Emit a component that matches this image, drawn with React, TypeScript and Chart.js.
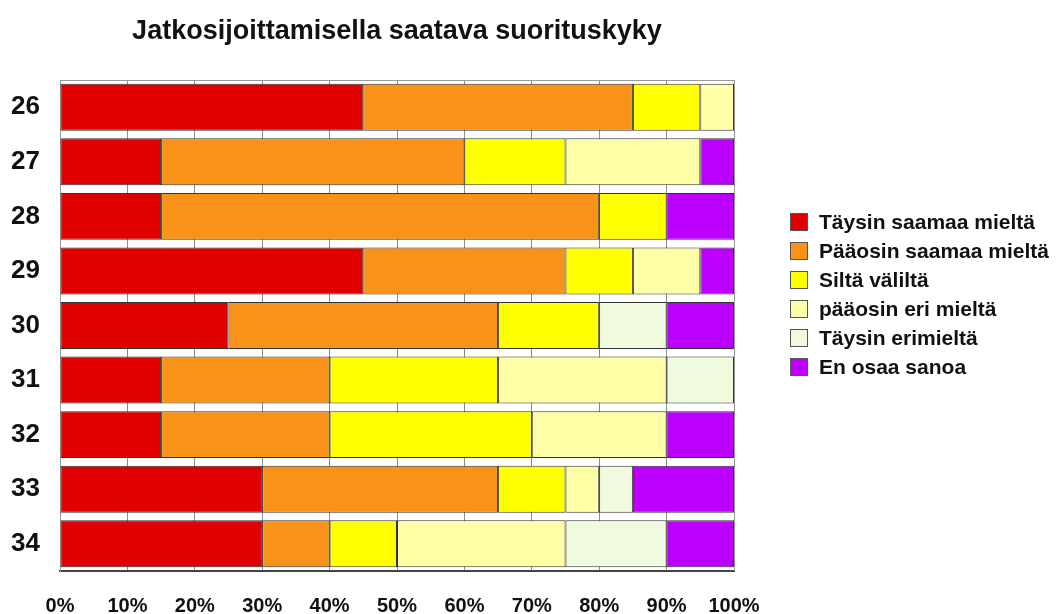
import React, { useEffect, useRef } from "react";
import { Chart, registerables } from "chart.js";

Chart.register(...registerables);

const categories = ["26", "27", "28", "29", "30", "31", "32", "33", "34"];
const seriesLabels = [
  "Täysin saamaa mieltä",
  "Pääosin saamaa mieltä",
  "Siltä väliltä",
  "pääosin eri mieltä",
  "Täysin erimieltä",
  "En osaa sanoa",
];
const taysinSamaa = [45, 15, 15, 45, 25, 15, 15, 30, 30];
const paaosinSamaa = [40, 45, 65, 30, 40, 25, 25, 35, 10];
const siltaValilta = [10, 15, 10, 10, 15, 25, 30, 10, 10];
const paaosinEri = [5, 20, 0, 10, 0, 25, 20, 5, 25];
const taysinEri = [0, 0, 0, 0, 10, 10, 0, 5, 15];
const enOsaa = [0, 5, 10, 5, 10, 0, 10, 15, 10];
const xTicks = [0, 10, 20, 30, 40, 50, 60, 70, 80, 90, 100];
const title = "Jatkosijoittamisella saatava suorituskyky";

const colors = ["#E00000", "#F99218", "#FFFF00", "#FFFFA8", "#F0FADC", "#BB00FF"];

const FONT = "'Liberation Sans', Arial, sans-serif";

export default function App() {
  const ref = useRef<HTMLCanvasElement | null>(null);

  useEffect(() => {
    document.body.style.margin = "0";
    const canvas = ref.current;
    if (!canvas) return;
    const values = [taysinSamaa, paaosinSamaa, siltaValilta, paaosinEri, taysinEri, enOsaa];

    const framePlugin = {
      id: "frameAndExtras",
      beforeDatasetsDraw(chart: any) {
        const { ctx, chartArea } = chart;
        ctx.save();
        ctx.strokeStyle = "#999999";
        ctx.lineWidth = 1;
        ctx.beginPath();
        ctx.moveTo(chartArea.left, chartArea.top + 0.5);
        ctx.lineTo(chartArea.right + 0.5, chartArea.top + 0.5);
        ctx.lineTo(chartArea.right + 0.5, chartArea.bottom);
        ctx.stroke();
        ctx.restore();
      },
      afterDraw(chart: any) {
        const { ctx, chartArea } = chart;
        ctx.save();
        // title
        ctx.fillStyle = "#111111";
        ctx.font = `bold 27px ${FONT}`;
        ctx.textAlign = "center";
        ctx.textBaseline = "middle";
        ctx.fillText(title, (chartArea.left + chartArea.right) / 2, 32);
        // legend
        ctx.font = `bold 21px ${FONT}`;
        ctx.textAlign = "left";
        chart.data.datasets.forEach((ds: any, i: number) => {
          const cy = 222 + i * 29;
          const bx = 790;
          const size = 18;
          ctx.fillStyle = ds.backgroundColor;
          ctx.fillRect(bx, cy - size / 2, size, size);
          ctx.strokeStyle = "#555555";
          ctx.lineWidth = 1;
          ctx.strokeRect(bx + 0.5, cy - size / 2 + 0.5, size - 1, size - 1);
          ctx.fillStyle = "#111111";
          ctx.fillText(ds.label, 819, cy + 1);
        });
        ctx.restore();
      },
    };

    const chart = new Chart(canvas, {
      type: "bar",
      data: {
        labels: categories,
        datasets: seriesLabels.map((label, i) => ({
          label,
          data: values[i],
          backgroundColor: colors[i],
          borderColor: "#333333",
          borderWidth: 1,
          borderSkipped: false,
          categoryPercentage: 0.86,
          barPercentage: 1,
        })),
      },
      options: {
        indexAxis: "y",
        responsive: false,
        animation: false,
        layout: { padding: { top: 80, right: 323, left: 0, bottom: 0 } },
        plugins: {
          legend: { display: false },
          title: { display: false },
          tooltip: { enabled: false },
        },
        scales: {
          x: {
            stacked: true,
            min: 0,
            max: 100,
            afterBuildTicks(scale: any) {
              scale.ticks = xTicks.map((v) => ({ value: v }));
            },
            afterFit(scale: any) {
              scale.height = 43;
            },
            grid: {
              color: "#8c8c8c",
              lineWidth: 1,
              drawTicks: false,
            },
            border: { display: true, color: "#444444", width: 2 },
            ticks: {
              padding: 23,
              color: "#111111",
              font: { family: FONT, size: 20, weight: "bold" },
              callback: (v: any) => `${v}%`,
              maxRotation: 0,
              autoSkip: false,
            },
          },
          y: {
            stacked: true,
            afterFit(scale: any) {
              scale.width = 60;
            },
            grid: { display: false, drawTicks: false },
            border: { display: true, color: "#999999", width: 1 },
            ticks: {
              padding: 20,
              color: "#111111",
              font: { family: FONT, size: 26, weight: "bold" },
            },
          },
        },
      },
      plugins: [framePlugin],
    } as any);

    return () => chart.destroy();
  }, []);

  return (
    <div style={{ width: 1057, height: 614 }}>
      <canvas ref={ref} width={1057} height={614} style={{ display: "block" }} />
    </div>
  );
}
